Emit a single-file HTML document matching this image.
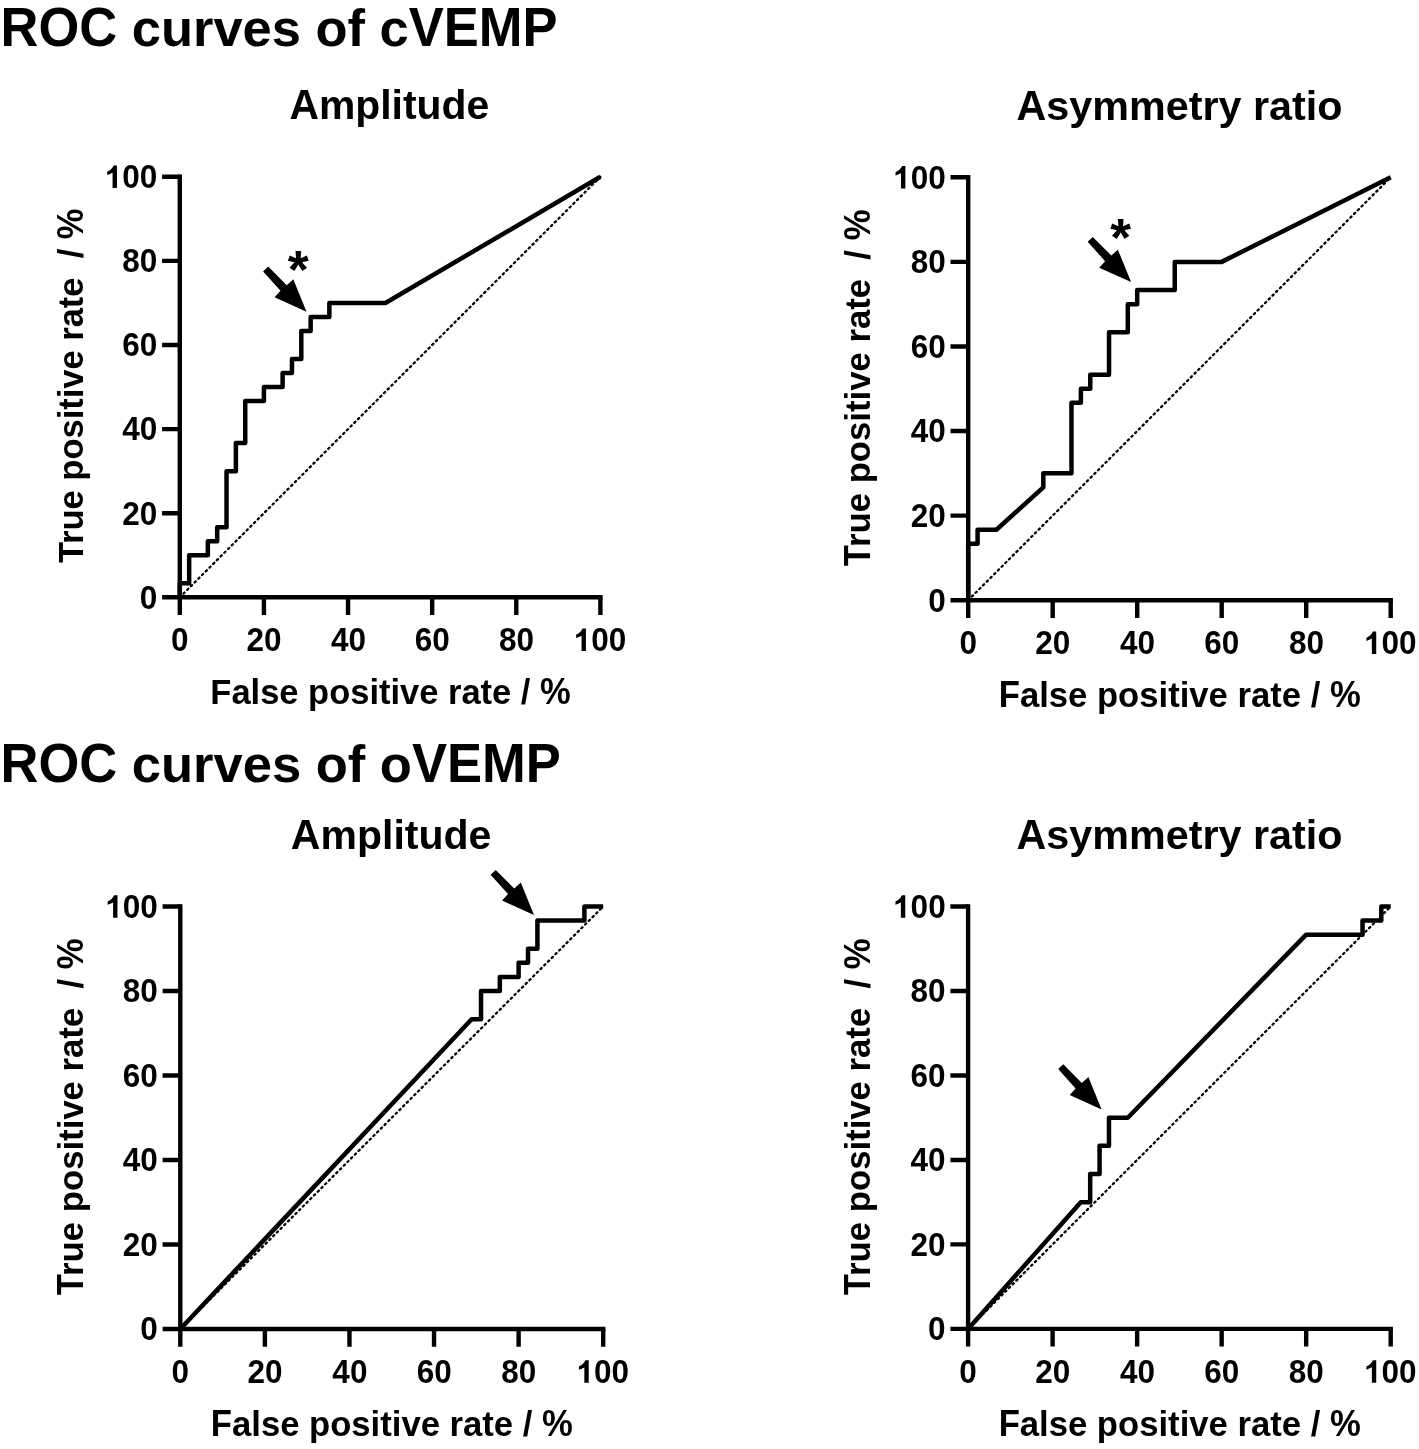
<!DOCTYPE html>
<html><head><meta charset="utf-8"><title>ROC curves of cVEMP and oVEMP</title><style>
html,body{margin:0;padding:0;background:#fff;overflow:hidden;}
svg{display:block;will-change:transform;}
text{font-family:"Liberation Sans",sans-serif;font-weight:bold;fill:#000;}
</style></head><body>
<svg width="1419" height="1449" viewBox="0 0 1419 1449">
<rect width="1419" height="1449" fill="#fff"/>
<path d="M179.80,174.60V615.00M162.10,597.30H602.60" stroke="#000" stroke-width="4.4" fill="none"/>
<path d="M162.10,513.20H179.80M263.92,597.30V615.00M162.10,429.10H179.80M348.04,597.30V615.00M162.10,345.00H179.80M432.16,597.30V615.00M162.10,260.90H179.80M516.28,597.30V615.00M162.10,176.80H179.80M600.40,597.30V615.00" stroke="#000" stroke-width="4.4" fill="none"/>
<path d="M179.80,597.30L600.40,176.80" stroke="#000" stroke-width="2.3" stroke-dasharray="1.5 3.75" stroke-linecap="round" fill="none"/>
<path d="M179.80,597.30 L179.80,583.28 L189.15,583.28 L189.15,555.25 L207.84,555.25 L207.84,541.23 L217.19,541.23 L217.19,527.22 L226.53,527.22 L226.53,471.15 L235.88,471.15 L235.88,443.12 L245.23,443.12 L245.23,401.07 L263.92,401.07 L263.92,387.05 L282.61,387.05 L282.61,373.03 L291.96,373.03 L291.96,359.02 L301.31,359.02 L301.31,330.98 L310.65,330.98 L310.65,316.97 L329.35,316.97 L329.35,302.95 L385.43,302.95 L600.40,176.80" stroke="#000" stroke-width="4.5" fill="none" stroke-linejoin="round" stroke-linecap="butt"/>
<polygon points="263.10,271.40 268.20,266.60 286.70,285.20 293.30,279.30 306.50,311.70 274.60,297.30 280.50,290.80"/>
<text x="287.73" y="288.22" font-size="53.947">*</text>
<g transform="translate(171.06,651.10) scale(1,1.04)" role="img" aria-label="0"><text font-size="31.5">0</text></g>
<g transform="translate(139.78,608.60) scale(1,1.04)" role="img" aria-label="0"><text font-size="31.5">0</text></g>
<g transform="translate(246.52,651.10) scale(1,1.04)" role="img" aria-label="20"><text font-size="31.5">20</text></g>
<g transform="translate(122.29,524.50) scale(1,1.04)" role="img" aria-label="20"><text font-size="31.5">20</text></g>
<g transform="translate(330.95,651.10) scale(1,1.04)" role="img" aria-label="40"><text font-size="31.5">40</text></g>
<g transform="translate(122.29,440.40) scale(1,1.04)" role="img" aria-label="40"><text font-size="31.5">40</text></g>
<g transform="translate(414.76,651.10) scale(1,1.04)" role="img" aria-label="60"><text font-size="31.5">60</text></g>
<g transform="translate(122.29,356.30) scale(1,1.04)" role="img" aria-label="60"><text font-size="31.5">60</text></g>
<g transform="translate(498.95,651.10) scale(1,1.04)" role="img" aria-label="80"><text font-size="31.5">80</text></g>
<g transform="translate(122.29,272.20) scale(1,1.04)" role="img" aria-label="80"><text font-size="31.5">80</text></g>
<g transform="translate(573.78,651.10) scale(1,1.04)" role="img" aria-label="100"><path transform="scale(0.01538,-0.01538)" d="M505,0L790,0L790,1409L575,1409Q470,1180 152,1017L152,812Q330,870 505,962Z"/><text x="17.52" font-size="31.5">00</text></g>
<g transform="translate(104.81,188.10) scale(1,1.04)" role="img" aria-label="100"><path transform="scale(0.01538,-0.01538)" d="M505,0L790,0L790,1409L575,1409Q470,1180 152,1017L152,812Q330,870 505,962Z"/><text x="17.52" font-size="31.5">00</text></g>
<path d="M968.20,175.10V617.90M950.50,600.20H1392.90" stroke="#000" stroke-width="4.4" fill="none"/>
<path d="M950.50,515.62H968.20M1052.70,600.20V617.90M950.50,431.04H968.20M1137.20,600.20V617.90M950.50,346.46H968.20M1221.70,600.20V617.90M950.50,261.88H968.20M1306.20,600.20V617.90M950.50,177.30H968.20M1390.70,600.20V617.90" stroke="#000" stroke-width="4.4" fill="none"/>
<path d="M968.20,600.20L1390.70,177.30" stroke="#000" stroke-width="2.3" stroke-dasharray="1.5 3.75" stroke-linecap="round" fill="none"/>
<path d="M968.20,600.20 L968.20,543.81 L977.59,543.81 L977.59,529.72 L996.37,529.72 L1043.31,487.43 L1043.31,473.33 L1071.48,473.33 L1071.48,402.85 L1080.87,402.85 L1080.87,388.75 L1090.26,388.75 L1090.26,374.65 L1109.03,374.65 L1109.03,332.36 L1127.81,332.36 L1127.81,304.17 L1137.20,304.17 L1137.20,290.07 L1174.76,290.07 L1174.76,261.88 L1221.70,261.88 L1390.70,177.30" stroke="#000" stroke-width="4.5" fill="none" stroke-linejoin="round" stroke-linecap="butt"/>
<polygon points="1087.70,241.80 1092.80,237.00 1111.30,255.60 1117.90,249.70 1131.10,282.10 1099.20,267.70 1105.10,261.20"/>
<text x="1110.13" y="255.86" font-size="53.421">*</text>
<g transform="translate(959.46,654.00) scale(1,1.04)" role="img" aria-label="0"><text font-size="31.5">0</text></g>
<g transform="translate(928.18,611.50) scale(1,1.04)" role="img" aria-label="0"><text font-size="31.5">0</text></g>
<g transform="translate(1035.30,654.00) scale(1,1.04)" role="img" aria-label="20"><text font-size="31.5">20</text></g>
<g transform="translate(910.70,526.92) scale(1,1.04)" role="img" aria-label="20"><text font-size="31.5">20</text></g>
<g transform="translate(1120.11,654.00) scale(1,1.04)" role="img" aria-label="40"><text font-size="31.5">40</text></g>
<g transform="translate(910.70,442.34) scale(1,1.04)" role="img" aria-label="40"><text font-size="31.5">40</text></g>
<g transform="translate(1204.30,654.00) scale(1,1.04)" role="img" aria-label="60"><text font-size="31.5">60</text></g>
<g transform="translate(910.70,357.76) scale(1,1.04)" role="img" aria-label="60"><text font-size="31.5">60</text></g>
<g transform="translate(1288.88,654.00) scale(1,1.04)" role="img" aria-label="80"><text font-size="31.5">80</text></g>
<g transform="translate(910.70,273.18) scale(1,1.04)" role="img" aria-label="80"><text font-size="31.5">80</text></g>
<g transform="translate(1364.08,654.00) scale(1,1.04)" role="img" aria-label="100"><path transform="scale(0.01538,-0.01538)" d="M505,0L790,0L790,1409L575,1409Q470,1180 152,1017L152,812Q330,870 505,962Z"/><text x="17.52" font-size="31.5">00</text></g>
<g transform="translate(893.21,188.60) scale(1,1.04)" role="img" aria-label="100"><path transform="scale(0.01538,-0.01538)" d="M505,0L790,0L790,1409L575,1409Q470,1180 152,1017L152,812Q330,870 505,962Z"/><text x="17.52" font-size="31.5">00</text></g>
<path d="M180.30,904.30V1346.70M162.60,1329.00H605.40" stroke="#000" stroke-width="4.4" fill="none"/>
<path d="M162.60,1244.50H180.30M264.88,1329.00V1346.70M162.60,1160.00H180.30M349.46,1329.00V1346.70M162.60,1075.50H180.30M434.04,1329.00V1346.70M162.60,991.00H180.30M518.62,1329.00V1346.70M162.60,906.50H180.30M603.20,1329.00V1346.70" stroke="#000" stroke-width="4.4" fill="none"/>
<path d="M180.30,1329.00L603.20,906.50" stroke="#000" stroke-width="2.3" stroke-dasharray="1.5 3.75" stroke-linecap="round" fill="none"/>
<path d="M180.30,1329.00 L471.63,1019.17 L481.03,1019.17 L481.03,991.00 L499.82,991.00 L499.82,976.92 L518.62,976.92 L518.62,962.83 L528.02,962.83 L528.02,948.75 L537.42,948.75 L537.42,920.58 L584.40,920.58 L584.40,906.50 L603.20,906.50" stroke="#000" stroke-width="4.5" fill="none" stroke-linejoin="round" stroke-linecap="butt"/>
<polygon points="490.60,874.70 495.70,869.90 514.20,888.50 520.80,882.60 534.00,915.00 502.10,900.60 508.00,894.10"/>
<g transform="translate(171.56,1382.80) scale(1,1.04)" role="img" aria-label="0"><text font-size="31.5">0</text></g>
<g transform="translate(140.28,1340.30) scale(1,1.04)" role="img" aria-label="0"><text font-size="31.5">0</text></g>
<g transform="translate(247.48,1382.80) scale(1,1.04)" role="img" aria-label="20"><text font-size="31.5">20</text></g>
<g transform="translate(122.79,1255.80) scale(1,1.04)" role="img" aria-label="20"><text font-size="31.5">20</text></g>
<g transform="translate(332.37,1382.80) scale(1,1.04)" role="img" aria-label="40"><text font-size="31.5">40</text></g>
<g transform="translate(122.79,1171.30) scale(1,1.04)" role="img" aria-label="40"><text font-size="31.5">40</text></g>
<g transform="translate(416.64,1382.80) scale(1,1.04)" role="img" aria-label="60"><text font-size="31.5">60</text></g>
<g transform="translate(122.79,1086.80) scale(1,1.04)" role="img" aria-label="60"><text font-size="31.5">60</text></g>
<g transform="translate(501.30,1382.80) scale(1,1.04)" role="img" aria-label="80"><text font-size="31.5">80</text></g>
<g transform="translate(122.79,1002.30) scale(1,1.04)" role="img" aria-label="80"><text font-size="31.5">80</text></g>
<g transform="translate(576.58,1382.80) scale(1,1.04)" role="img" aria-label="100"><path transform="scale(0.01538,-0.01538)" d="M505,0L790,0L790,1409L575,1409Q470,1180 152,1017L152,812Q330,870 505,962Z"/><text x="17.52" font-size="31.5">00</text></g>
<g transform="translate(105.31,917.80) scale(1,1.04)" role="img" aria-label="100"><path transform="scale(0.01538,-0.01538)" d="M505,0L790,0L790,1409L575,1409Q470,1180 152,1017L152,812Q330,870 505,962Z"/><text x="17.52" font-size="31.5">00</text></g>
<path d="M968.10,904.30V1346.60M950.40,1328.90H1392.90" stroke="#000" stroke-width="4.4" fill="none"/>
<path d="M950.40,1244.42H968.10M1052.62,1328.90V1346.60M950.40,1159.94H968.10M1137.14,1328.90V1346.60M950.40,1075.46H968.10M1221.66,1328.90V1346.60M950.40,990.98H968.10M1306.18,1328.90V1346.60M950.40,906.50H968.10M1390.70,1328.90V1346.60" stroke="#000" stroke-width="4.4" fill="none"/>
<path d="M968.10,1328.90L1390.70,906.50" stroke="#000" stroke-width="2.3" stroke-dasharray="1.5 3.75" stroke-linecap="round" fill="none"/>
<path d="M968.10,1328.90 L1080.79,1202.18 L1090.18,1202.18 L1090.18,1174.02 L1099.58,1174.02 L1099.58,1145.86 L1108.97,1145.86 L1108.97,1117.70 L1127.75,1117.70 L1306.18,934.66 L1362.53,934.66 L1362.53,920.58 L1381.31,920.58 L1381.31,906.50 L1390.70,906.50" stroke="#000" stroke-width="4.5" fill="none" stroke-linejoin="round" stroke-linecap="butt"/>
<polygon points="1058.20,1069.10 1063.30,1064.30 1081.80,1082.90 1088.40,1077.00 1101.60,1109.40 1069.70,1095.00 1075.60,1088.50"/>
<g transform="translate(959.36,1382.70) scale(1,1.04)" role="img" aria-label="0"><text font-size="31.5">0</text></g>
<g transform="translate(928.08,1340.20) scale(1,1.04)" role="img" aria-label="0"><text font-size="31.5">0</text></g>
<g transform="translate(1035.22,1382.70) scale(1,1.04)" role="img" aria-label="20"><text font-size="31.5">20</text></g>
<g transform="translate(910.60,1255.72) scale(1,1.04)" role="img" aria-label="20"><text font-size="31.5">20</text></g>
<g transform="translate(1120.05,1382.70) scale(1,1.04)" role="img" aria-label="40"><text font-size="31.5">40</text></g>
<g transform="translate(910.60,1171.24) scale(1,1.04)" role="img" aria-label="40"><text font-size="31.5">40</text></g>
<g transform="translate(1204.26,1382.70) scale(1,1.04)" role="img" aria-label="60"><text font-size="31.5">60</text></g>
<g transform="translate(910.60,1086.76) scale(1,1.04)" role="img" aria-label="60"><text font-size="31.5">60</text></g>
<g transform="translate(1288.86,1382.70) scale(1,1.04)" role="img" aria-label="80"><text font-size="31.5">80</text></g>
<g transform="translate(910.60,1002.28) scale(1,1.04)" role="img" aria-label="80"><text font-size="31.5">80</text></g>
<g transform="translate(1364.08,1382.70) scale(1,1.04)" role="img" aria-label="100"><path transform="scale(0.01538,-0.01538)" d="M505,0L790,0L790,1409L575,1409Q470,1180 152,1017L152,812Q330,870 505,962Z"/><text x="17.52" font-size="31.5">00</text></g>
<g transform="translate(893.11,917.80) scale(1,1.04)" role="img" aria-label="100"><path transform="scale(0.01538,-0.01538)" d="M505,0L790,0L790,1409L575,1409Q470,1180 152,1017L152,812Q330,870 505,962Z"/><text x="17.52" font-size="31.5">00</text></g>
<g transform="translate(0.59,45.80)" font-size="52.481" role="img" aria-label="ROC curves of cVEMP"><text x="131.17 160.34 192.39 212.81 242.00 271.17 314.94 346.98 379.03">curvesofc</text><text transform="scale(1,1.04)" x="0.00 37.89 78.70 408.22 443.20 478.20 521.91">ROCVEMP</text></g>
<g transform="translate(0.59,781.80)" font-size="52.517" role="img" aria-label="ROC curves of oVEMP"><text x="131.25 160.44 192.52 212.94 242.14 271.34 315.12 347.19 379.27">curvesofo</text><text transform="scale(1,1.04)" x="0.00 37.91 78.75 411.33 446.34 481.36 525.09">ROCVEMP</text></g>
<g transform="translate(289.38,118.90)" font-size="40.89" role="img" aria-label="Amplitude"><text x="29.52 65.86 90.83 102.19 113.53 127.14 152.11 177.08">mplitude</text><text transform="scale(1,1.04)" x="0.00">A</text></g>
<g transform="translate(1016.57,119.80)" font-size="41.304" role="img" aria-label="Asymmetry ratio"><text x="29.81 52.78 75.75 112.47 149.19 172.16 185.91 201.98 236.42 252.48 275.45 289.22 300.69">symmetryratio</text><text transform="scale(1,1.04)" x="0.00">A</text></g>
<g transform="translate(290.87,848.90)" font-size="41.035" role="img" aria-label="Amplitude"><text x="29.61 66.08 91.14 102.53 113.92 127.58 152.64 177.69">mplitude</text><text transform="scale(1,1.04)" x="0.00">A</text></g>
<g transform="translate(1016.57,848.80)" font-size="41.304" role="img" aria-label="Asymmetry ratio"><text x="29.81 52.78 75.75 112.47 149.19 172.16 185.91 201.98 236.42 252.48 275.45 289.22 300.69">symmetryratio</text><text transform="scale(1,1.04)" x="0.00">A</text></g>
<g transform="translate(210.36,704.30)" font-size="34.498" role="img" aria-label="False positive rate / %"><text x="21.06 40.23 49.81 69.00 97.75 118.81 139.89 159.06 168.64 180.12 189.70 208.89 237.64 251.06 270.25 281.73 310.48">alsepositiverate/</text><text transform="scale(1,1.04)" x="0.00">F</text><text transform="scale(1,1.09)" x="329.64">%</text></g>
<g transform="translate(998.75,707.00)" font-size="34.653" role="img" aria-label="False positive rate / %"><text x="21.16 40.42 50.05 69.31 98.20 119.36 140.52 159.78 169.41 180.94 190.56 209.83 238.72 252.20 271.47 283.00 311.89">alsepositiverate/</text><text transform="scale(1,1.04)" x="0.00">F</text><text transform="scale(1,1.09)" x="331.14">%</text></g>
<g transform="translate(210.85,1436.00)" font-size="34.653" role="img" aria-label="False positive rate / %"><text x="21.16 40.42 50.05 69.31 98.20 119.36 140.52 159.78 169.41 180.94 190.56 209.83 238.72 252.20 271.47 283.00 311.89">alsepositiverate/</text><text transform="scale(1,1.04)" x="0.00">F</text><text transform="scale(1,1.09)" x="331.14">%</text></g>
<g transform="translate(998.65,1436.20)" font-size="34.662" role="img" aria-label="False positive rate / %"><text x="21.16 40.44 50.06 69.34 98.23 119.41 140.58 159.86 169.48 181.03 190.66 209.92 238.83 252.31 271.59 283.12 312.03">alsepositiverate/</text><text transform="scale(1,1.04)" x="0.00">F</text><text transform="scale(1,1.09)" x="331.30">%</text></g>
<g transform="translate(83.00,563.04) rotate(-90)" font-size="34.495" role="img" aria-label="True positive rate  / %"><text x="19.16 32.58 53.64 82.39 103.47 124.53 143.70 153.28 164.77 174.34 193.53 222.28 235.70 254.89 266.38 304.70">ruepositiverate/</text><text transform="scale(1,1.04)" x="0.00">T</text><text transform="scale(1,1.09)" x="323.88">%</text></g>
<g transform="translate(870.30,566.25) rotate(-90)" font-size="34.71" role="img" aria-label="True positive rate  / %"><text x="19.28 32.78 53.98 82.92 104.12 125.31 144.61 154.27 165.81 175.45 194.75 223.70 237.20 256.50 268.06 306.64">ruepositiverate/</text><text transform="scale(1,1.04)" x="0.00">T</text><text transform="scale(1,1.09)" x="325.92">%</text></g>
<g transform="translate(83.00,1295.15) rotate(-90)" font-size="34.719" role="img" aria-label="True positive rate  / %"><text x="19.28 32.78 53.98 82.92 104.12 125.31 144.61 154.27 165.81 175.45 194.75 223.70 237.20 256.50 268.06 306.64">ruepositiverate/</text><text transform="scale(1,1.04)" x="0.00">T</text><text transform="scale(1,1.09)" x="325.92">%</text></g>
<g transform="translate(870.30,1295.15) rotate(-90)" font-size="34.719" role="img" aria-label="True positive rate  / %"><text x="19.28 32.78 53.98 82.92 104.12 125.31 144.61 154.27 165.81 175.45 194.75 223.70 237.20 256.50 268.06 306.64">ruepositiverate/</text><text transform="scale(1,1.04)" x="0.00">T</text><text transform="scale(1,1.09)" x="325.92">%</text></g>
</svg>
</body></html>
